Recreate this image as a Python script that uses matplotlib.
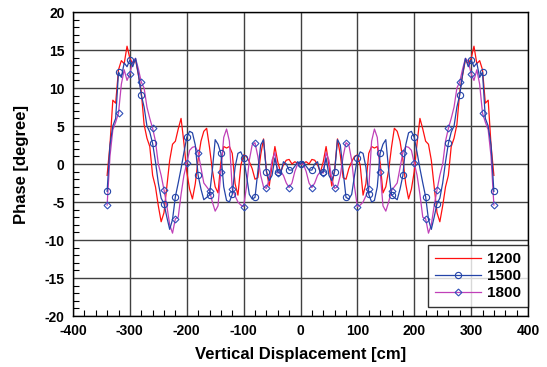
import matplotlib
matplotlib.use("Agg")
import matplotlib.pyplot as plt
from matplotlib.ticker import MultipleLocator

plt.rcParams['font.family'] = ['Liberation Sans', 'DejaVu Sans']
plt.rcParams['axes.unicode_minus'] = False

x = list(range(-340, 345, 5))

s1200 = [-1.5, 2.5, 8.4, 8.0, 12.4, 13.6, 13.2, 15.5, 13.9, 13.2, 13.7, 11.7, 9.5, 5.2, 3.4, 2.3,
         -1.5, -3.0, -5.5, -7.6, -6.4, -3.0, 0.5, 2.6, 3.0, 4.6, 6.0, 2.8, -1.0, -3.3, -4.6, -2.6,
         0.6, 3.0, 4.3, 4.7, 2.2, -0.8, -3.0, -3.8, 0.2, 2.3, 2.1, 2.3, 1.4, -2.6, -4.1, -0.2,
         1.2, 1.0, 0.3, -0.6, -2.0, -1.8, 1.2, 3.3, -0.8, -2.9, -0.2, 2.3, 0.3, -1.1, -0.1, 0.5,
         0.6, 0.0, 0.3, 0.1, 0.0,
         0.1, 0.3, 0.0, 0.6, 0.5, -0.1, -1.1, 0.3, 2.3, -0.2, -2.9, -0.8, 3.3, 1.2, -1.8, -2.0,
         -0.6, 0.3, 1.0, 1.2, -0.2, -4.1, -2.6, 1.4, 2.3, 2.1, 2.3, 0.2, -3.8, -3.0, -0.8, 2.2,
         4.7, 4.3, 3.0, 0.6, -2.6, -4.6, -3.3, -1.0, 2.8, 6.0, 4.6, 3.0, 2.6, 0.5, -3.0, -6.4,
         -7.6, -5.5, -3.0, -1.5, 2.3, 3.4, 5.2, 9.5, 11.7, 13.7, 13.2, 13.9, 15.5, 13.2, 13.6, 12.4,
         8.0, 8.4, 2.5, -1.5]

s1500 = [-3.6, 2.5, 5.0, 6.0, 12.1, 11.4, 13.3, 12.8, 13.7, 12.8, 13.9, 11.8, 9.1, 7.5, 5.0, 4.2,
         2.7, 0.3, -2.5, -4.5, -5.2, -7.0, -8.6, -7.3, -4.3, -2.5, -0.6, 1.5, 3.5, 4.3, 4.1, 2.5,
         -1.5, -3.3, -4.7, -4.4, -4.1, -0.8, 3.2, 2.6, 1.4, -3.0, -4.8, -5.0, -4.0, -0.4, 1.4, 1.6,
         0.75, -1.5, -4.0, -4.6, -4.4, -1.0, 2.5, 3.2, -1.0, -2.2, -1.5, 0.8, -1.0, -1.3, 0.3, 0.0,
         -0.8, -0.8, -0.3, 0.3, 0.0,
         0.3, -0.3, -0.8, -0.8, 0.0, 0.3, -1.3, -1.0, 0.8, -1.5, -2.2, -1.0, 3.2, 2.5, -1.0, -4.4,
         -4.6, -4.0, -1.5, 0.75, 1.6, 1.4, -0.4, -4.0, -5.0, -4.8, -3.0, 1.4, 2.6, 3.2, -0.8, -4.1,
         -4.4, -4.7, -3.3, -1.5, 2.5, 4.1, 4.3, 3.5, 1.5, -0.6, -2.5, -4.3, -7.3, -8.6, -7.0, -5.2,
         -4.5, -2.5, 0.3, 2.7, 4.2, 5.0, 7.5, 9.1, 11.8, 13.9, 12.8, 13.7, 12.8, 13.3, 11.4, 12.1,
         6.0, 5.0, 2.5, -3.6]

s1800 = [-5.4, 1.0, 4.5, 5.5, 6.7, 10.5, 12.4, 11.0, 11.9, 13.5, 13.9, 12.5, 10.8, 10.0, 7.5, 6.0,
         4.7, 3.0, 0.0, -1.5, -3.4, -5.5, -8.0, -9.1, -7.2, -7.0, -4.0, -1.5, 0.1, 1.8, 2.2, 2.3,
         1.5, -0.5, -2.5, -3.0, -3.5, -5.0, -6.2, -5.5, -1.0, 3.5, 4.6, 3.0, -3.3, -4.2, -5.0, -5.4,
         -5.6, -3.0, 0.5, 2.5, 2.8, 1.0, -1.5, -3.0, -3.2, -2.0, 0.5, 1.5, -1.2, -1.0, -1.5, -2.5,
         -3.1, -2.5, -1.0, 0.0, 0.0,
         0.0, -1.0, -2.5, -3.1, -2.5, -1.5, -1.0, -1.2, 1.5, 0.5, -2.0, -3.2, -3.0, -1.5, 1.0, 2.8,
         2.5, 0.5, -3.0, -5.6, -5.4, -5.0, -4.2, -3.3, 3.0, 4.6, 3.5, -1.0, -5.5, -6.2, -5.0, -3.5,
         -3.0, -2.5, -0.5, 1.5, 2.3, 2.2, 1.8, 0.1, -1.5, -4.0, -7.0, -7.2, -9.1, -8.0, -5.5, -3.4,
         -1.5, 0.0, 3.0, 4.7, 6.0, 7.5, 10.0, 10.8, 12.5, 13.9, 13.5, 11.9, 11.0, 12.4, 10.5, 6.7,
         5.5, 4.5, 1.0, -5.4]

series_names = ['1200', '1500', '1800']

fig = plt.figure(figsize=(5.47, 3.67), dpi=100)
ax = fig.add_axes([73/547, (367-316)/367, 455/547, 304/367])

ax.plot(x, s1200, color='#ff1010', lw=0.9, label=series_names[0], zorder=3)
ax.plot(x, s1500, color='#2444a8', lw=0.9, marker='o', markersize=4.5, markevery=4,
        markerfacecolor='none', markeredgecolor='#2444a8', markeredgewidth=0.8,
        label=series_names[1], zorder=4)
ax.plot(x, s1800, color='#c040b8', lw=0.9, marker='D', markersize=3.5, markevery=4,
        markerfacecolor='none', markeredgecolor='#3050b8', markeredgewidth=0.8,
        label=series_names[2], zorder=3)

ax.set_xlim(-400, 400)
ax.set_ylim(-20, 20)
ax.xaxis.set_major_locator(MultipleLocator(100))
ax.xaxis.set_minor_locator(MultipleLocator(20))
ax.yaxis.set_major_locator(MultipleLocator(5))
ax.yaxis.set_minor_locator(MultipleLocator(1))
ax.grid(True, which='major', color='#404040', lw=1.0)
ax.set_axisbelow(True)
ax.tick_params(which='both', direction='in', labelsize=10)
ax.tick_params(which='major', length=0, pad=6)
ax.tick_params(which='minor', length=4, width=0.8)
for lab in ax.get_xticklabels() + ax.get_yticklabels():
    lab.set_fontweight('bold')
for sp in ax.spines.values():
    sp.set_linewidth(1.0)
    sp.set_color('black')

ax.set_xlabel('Vertical Displacement [cm]', fontsize=12, fontweight='bold', labelpad=6)
ax.set_ylabel('Phase [degree]', fontsize=12, fontweight='bold', labelpad=11)

leg = ax.legend(loc='lower right', bbox_to_anchor=(1.0, 0.03), borderaxespad=0,
                frameon=True, fancybox=False, edgecolor='black',
                handlelength=3.0, handletextpad=0.4, borderpad=0.45, labelspacing=0.2,
                prop={'weight': 'bold', 'size': 11})
leg.get_frame().set_linewidth(1.0)

fig.savefig('out.png', dpi=100)
